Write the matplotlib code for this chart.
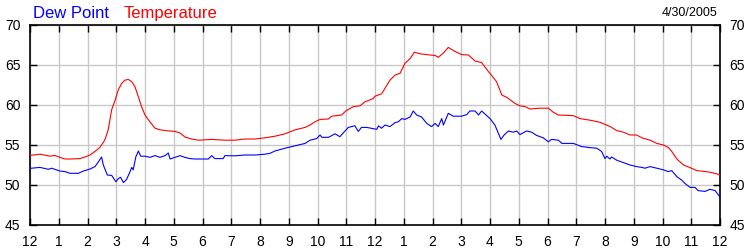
import matplotlib
matplotlib.use("Agg")
import matplotlib.pyplot as plt

plt.rcParams["font.family"] = ["Liberation Sans", "DejaVu Sans"]

# hours since midnight, 4/30/2005
temp_hours = [0.0, 0.35, 0.7, 0.87, 1.04, 1.22, 1.4, 1.74, 1.91, 2.09, 2.26, 2.43,
              2.6, 2.72, 2.84, 2.96, 3.07, 3.19, 3.3, 3.42, 3.54, 3.65, 3.77, 3.88,
              4.0, 4.17, 4.35, 4.52, 4.7, 5.04, 5.22, 5.39, 5.62, 5.86, 6.32, 6.78,
              7.13, 7.48, 7.83, 8.17, 8.52, 8.87, 9.22, 9.57, 9.74, 9.91, 10.09,
              10.38, 10.49, 10.84, 11.0, 11.25, 11.48, 11.65, 11.94, 12.0, 12.23,
              12.52, 12.7, 12.87, 13.04, 13.22, 13.37, 13.57, 13.91, 14.09, 14.2,
              14.38, 14.55, 14.78, 15.01, 15.25, 15.48, 15.71, 15.94, 16.0, 16.23,
              16.41, 16.58, 16.87, 17.04, 17.22, 17.39, 17.74, 18.03, 18.2, 18.38,
              18.9, 19.13, 19.48, 19.83, 20.18, 20.41, 20.64, 20.87, 21.1, 21.28,
              21.57, 21.8, 22.03, 22.2, 22.32, 22.5, 22.73, 22.96, 23.19, 23.43,
              23.65, 23.88, 24.0]
temp = [53.7, 53.85, 53.6, 53.7, 53.45, 53.25, 53.25, 53.3, 53.5, 53.75, 54.2, 54.7,
        55.6, 56.9, 59.4, 60.6, 61.9, 62.7, 63.1, 63.2, 62.9, 62.3, 61.0, 59.8,
        58.75, 57.9, 57.1, 56.9, 56.8, 56.7, 56.5, 56.0, 55.75, 55.6, 55.7, 55.6,
        55.6, 55.75, 55.75, 55.9, 56.1, 56.4, 56.9, 57.2, 57.5, 57.9, 58.2,
        58.25, 58.6, 58.75, 59.3, 59.8, 59.9, 60.4, 60.8, 61.1, 61.4,
        63.1, 63.75, 63.96, 65.2, 65.8, 66.6, 66.4, 66.25, 66.2, 65.96,
        66.5, 67.2, 66.7, 66.3, 66.25, 65.5, 65.3, 64.2, 63.96, 62.9,
        61.25, 60.96, 60.2, 59.9, 59.8, 59.5, 59.6, 59.6, 59.1, 58.75,
        58.67, 58.3, 58.1, 57.83, 57.3, 56.8, 56.6, 56.25, 56.25, 55.9,
        55.6, 55.2, 55.0, 54.7, 54.2, 53.25, 52.5, 52.17, 51.8, 51.7,
        51.6, 51.4, 51.25]

dew_hours = [0.0, 0.35, 0.64, 0.75, 0.87, 1.04, 1.22, 1.39, 1.68, 1.86, 2.09, 2.26,
             2.38, 2.49, 2.55, 2.69, 2.84, 2.99, 3.07, 3.15, 3.25, 3.36, 3.48, 3.54,
             3.59, 3.68, 3.77, 3.85, 4.0, 4.17, 4.35, 4.52, 4.7, 4.81, 4.87, 5.04,
             5.22, 5.39, 5.57, 5.74, 6.2, 6.32, 6.43, 6.72, 6.78, 7.13, 7.48, 7.83,
             8.17, 8.35, 8.52, 8.87, 9.22, 9.57, 9.74, 9.97, 10.09, 10.15, 10.38,
             10.61, 10.78, 11.07, 11.3, 11.42, 11.53, 11.71, 12.06, 12.12, 12.23,
             12.35, 12.52, 12.7, 12.81, 12.93, 13.04, 13.22, 13.33, 13.45, 13.62,
             13.8, 13.97, 14.09, 14.2, 14.32, 14.38, 14.55, 14.72, 15.01, 15.19,
             15.3, 15.48, 15.6, 15.71, 16.0, 16.17, 16.29, 16.38, 16.49, 16.64,
             16.81, 16.93, 17.04, 17.27, 17.45, 17.62, 17.85, 18.03, 18.14, 18.38,
             18.5, 18.9, 19.19, 19.48, 19.71, 19.88, 20.0, 20.06, 20.17, 20.23,
             20.41, 20.64, 20.87, 21.1, 21.28, 21.39, 21.57, 21.8, 22.03, 22.2,
             22.32, 22.5, 22.67, 22.78, 22.96, 23.13, 23.24, 23.48, 23.65, 23.83,
             24.0]
dew = [52.08, 52.2, 51.96, 52.1, 51.96, 51.75, 51.67, 51.46, 51.46, 51.75, 52.0, 52.3,
       52.9, 53.5, 52.5, 51.25, 51.2, 50.4, 50.8, 50.96, 50.3, 50.7, 51.67, 52.2,
       51.9, 53.5, 54.25, 53.6, 53.6, 53.46, 53.67, 53.46, 53.67, 54.0, 53.25, 53.45,
       53.67, 53.45, 53.3, 53.25, 53.25, 53.67, 53.3, 53.3, 53.67, 53.65, 53.75, 53.75,
       53.85, 53.96, 54.25, 54.6, 54.9, 55.2, 55.6, 55.8, 56.25, 55.96, 55.96,
       56.4, 56.04, 57.2, 57.4, 56.7, 57.2, 57.2, 56.96, 57.4, 57.1,
       57.5, 57.3, 57.8, 57.9, 58.3, 58.2, 58.5, 59.25, 58.75, 58.5,
       57.7, 57.3, 57.7, 57.3, 58.3, 57.5, 58.96, 58.6, 58.6, 58.8,
       59.25, 59.25, 58.75, 59.25, 58.3, 57.5, 56.46, 55.7, 56.25, 56.75,
       56.6, 56.75, 56.3, 56.75, 56.6, 56.2, 55.9, 55.4, 55.7, 55.6,
       55.2, 55.2, 54.8, 54.67, 54.6, 54.2, 53.3, 53.6, 53.25, 53.5,
       53.1, 52.8, 52.5, 52.3, 52.2, 52.1, 52.3, 52.1, 51.9, 51.67,
       51.8, 51.04, 50.6, 50.2, 49.7, 49.7, 49.3, 49.2, 49.46, 49.3,
       48.5]

hour_labels = ["12"] + [str(h) for h in range(1, 12)] + ["12"] + [str(h) for h in range(1, 12)] + ["12"]
y_ticks = [45, 50, 55, 60, 65, 70]

fig = plt.figure(figsize=(7.5, 2.5), dpi=100)
ax = fig.add_axes([30 / 750, 25 / 250, 690 / 750, 200 / 250])

ax.plot(dew_hours, dew, color="#0000ff", lw=0.8, zorder=3)
ax.plot(temp_hours, temp, color="#ff0000", lw=0.8, zorder=3)

ax.set_xlim(0, 24)
ax.set_ylim(45, 70)
ax.set_xticks(range(25))
ax.set_xticklabels(hour_labels)
ax.set_yticks(y_ticks)
ax.grid(True, color="#c8c8c8", lw=1.0, zorder=0)
ax.set_axisbelow(True)

ax.tick_params(direction="in", length=5, width=1, color="black",
               top=True, right=True, labelright=True, labelsize=10, pad=7)
for sp in ax.spines.values():
    sp.set_linewidth(1.2)
    sp.set_color("black")

fig.text(33 / 750, 1 - 18 / 250, "Dew Point", color="#0000ff", fontsize=12, va="baseline")
fig.text(124 / 750, 1 - 18 / 250, "Temperature", color="#ff0000", fontsize=12, va="baseline")
fig.text(717 / 750, 1 - 16 / 250, "4/30/2005", color="black", fontsize=9,
         va="baseline", ha="right")

fig.savefig("out.png", dpi=100)
